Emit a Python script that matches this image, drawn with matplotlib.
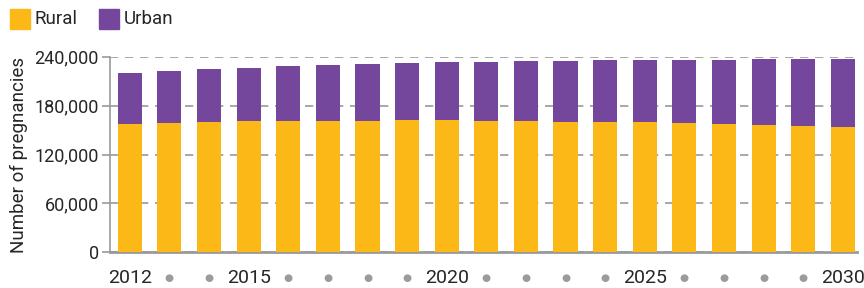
import numpy as np
import matplotlib
matplotlib.use("Agg")
from matplotlib import pyplot as plt
from matplotlib.patches import Rectangle

years = list(range(2012, 2031))
rural = [157300, 158500, 159700, 161000, 161000, 161000, 161000, 162200, 162200, 161000,
         161000, 159700, 159700, 159700, 158500, 157300, 156000, 154800, 153600]
total = [219800, 222300, 224700, 226000, 228400, 229600, 230900, 232100, 233300, 233300,
         234500, 234500, 235800, 235800, 235800, 235800, 237000, 237000, 237000]
urban = [t - r for t, r in zip(total, rural)]
labeled_years = [2012, 2015, 2020, 2025, 2030]
yticks = [0, 60000, 120000, 180000, 240000]

YELLOW = "#FBB817"
PURPLE = "#74479C"
GRID = "#9a9a9a"
TEXT = "#262626"

plt.rcParams['font.family'] = ['Roboto', 'DejaVu Sans']

W, H = 864, 288
fig = plt.figure(figsize=(W / 100, H / 100), dpi=100)
ax = fig.add_axes([0.1273, 0.124, 0.8647, 0.679])

x = np.arange(len(years))
ax.bar(x, rural, width=0.61, color=YELLOW, zorder=3)
ax.bar(x, urban, width=0.61, bottom=rural, color=PURPLE, zorder=3)

ax.set_ylim(0, 240000)
ax.set_xlim(-0.5, 18.36)
ax.set_yticks(yticks)
ax.set_yticklabels([f"{v:,}" for v in yticks], fontsize=13, color=TEXT)
ax.yaxis.grid(True, color=GRID, linestyle=(0, (5, 4)), linewidth=1.2, zorder=0)
ax.tick_params(axis='y', length=6, width=1.2, color=GRID, pad=2)

ax.set_xticks(x)
labels = [str(y) if y in labeled_years else "\u25cf" for y in years]
ax.set_xticklabels(labels)
ax.tick_params(axis='x', length=0, pad=18.5)
for lab, y in zip(ax.get_xticklabels(), years):
    lab.set_va('center')
    if y in labeled_years:
        lab.set_fontsize(14)
        lab.set_color(TEXT)
    else:
        lab.set_fontsize(7.5)
        lab.set_color("#9b9b9b")
        lab.set_family(['DejaVu Sans'])

for s in ['top', 'right']:
    ax.spines[s].set_visible(False)
ax.spines['left'].set_color(GRID)
ax.spines['left'].set_linewidth(1.2)
ax.spines['bottom'].set_color(GRID)
ax.spines['bottom'].set_linewidth(2)

ax.set_ylabel("Number of pregnancies", fontsize=13.5, color=TEXT, labelpad=5)

# legend drawn in figure pixels
for px, col, name in [(10, YELLOW, "Rural"), (99, PURPLE, "Urban")]:
    fig.patches.append(Rectangle((px / W, 1 - 29 / H), 20 / W, 20 / H,
                                 transform=fig.transFigure, color=col))
    fig.text((px + 25) / W, 1 - 19 / H, name, fontsize=13.5, color=TEXT, va='center')

fig.savefig("out.png", dpi=100)
